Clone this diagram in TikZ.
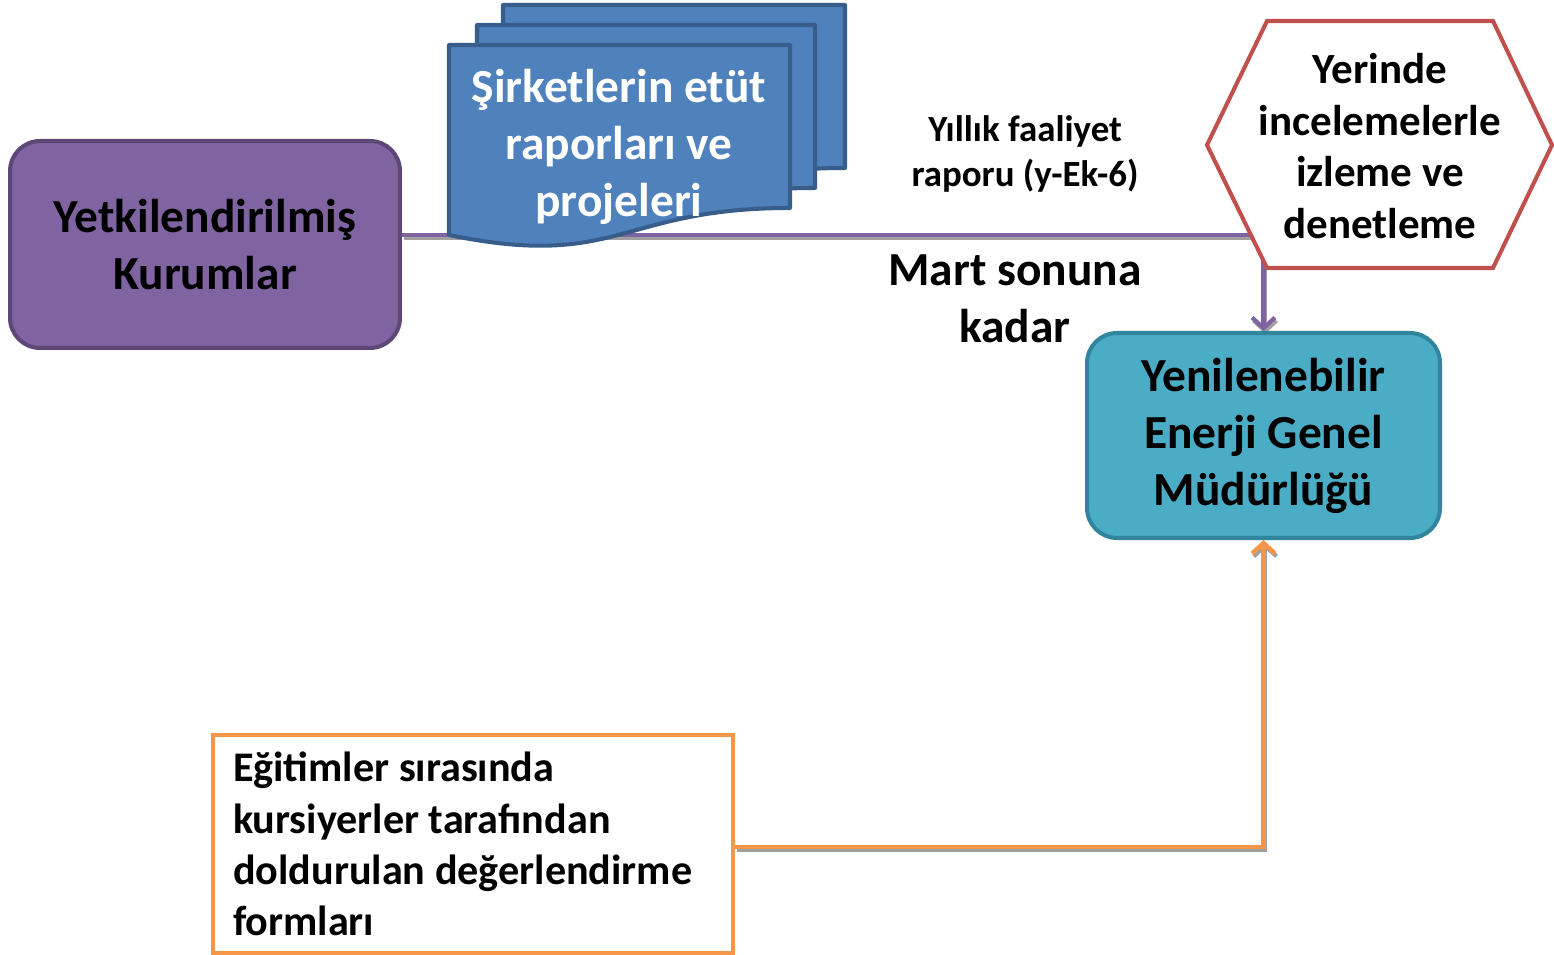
\documentclass[tikz,border=0pt]{standalone}
\usepackage{fontspec}
\setmainfont{Carlito}
\usetikzlibrary{arrows.meta}
\usetikzlibrary{backgrounds}

\definecolor{kurumfill}{HTML}{8064A2}
\definecolor{kurumdraw}{HTML}{5C4776}
\definecolor{raporfill}{HTML}{4F81BD}
\definecolor{rapordraw}{HTML}{385D8A}
\definecolor{yegmfill}{HTML}{4BACC6}
\definecolor{yegmdraw}{HTML}{31859C}
\definecolor{denetdraw}{HTML}{C0504D}
\definecolor{formdraw}{HTML}{F79646}
\definecolor{golge}{HTML}{A0A0A0}

\tikzset{
 buyuk/.style={font=\bfseries\fontsize{27}{32.5}\selectfont},
 kutu/.style={rectangle, rounded corners=0.6cm, line width=2.3pt, align=center, buyuk},
 ok/.style={line width=2.4pt, ->, >={Straight Barb[length=6pt,width=13pt]}},
 golgeli/.style={golge, line width=2.4pt, ->, >={Straight Barb[length=6pt,width=13pt]}, transform canvas={xshift=0.9pt,yshift=-1.7pt}}
}

\begin{document}
\begin{tikzpicture}[x=0.02cm, y=-0.02cm]
\useasboundingbox (0,0) rectangle (1554,955);

% kutular
\node[kutu, fill=kurumfill, draw=kurumdraw, minimum width=7.8cm, minimum height=4.14cm] (kurum) at (205,244.5) {Yetkilendirilmiş\\Kurumlar};
\node[kutu, fill=yegmfill, draw=yegmdraw, minimum width=7.06cm, minimum height=4.1cm] (yegm) at (1263.5,435.5) {Yenilenebilir\\Enerji Genel\\Müdürlüğü};
\node[rectangle, draw=formdraw, fill=white, line width=2.3pt, minimum width=10.4cm, minimum height=4.36cm, text width=9.6cm, align=flush left, font=\bfseries\fontsize{24}{29.2}\selectfont] (form) at (473,844) {Eğitimler sırasında\\kursiyerler tarafından\\doldurulan değerlendirme\\formları};

% rapor yigini
\foreach \x/\y/\w in {503/5/342, 477/25/338, 449/45/341} {
 \filldraw[fill=raporfill, draw=rapordraw, line width=2.3pt, line join=round]
  (\x,\y) -- ++(\w,0) -- ++(0,163)
  .. controls ({\x+\w/2},{\y+163}) and ({\x+\w/2},{\y+225}) .. (\x,{\y+190}) -- cycle;
}
\node[buyuk, text=white, align=center] (rapor) at (619,147) {Şirketlerin etüt\\raporları ve\\projeleri};

% denetleme
\filldraw[fill=white, draw=denetdraw, line width=2.3pt]
 (1207,145) -- (1267,21) -- (1493,21) -- (1552,145) -- (1493,268) -- (1267,268) -- cycle;
\node[align=center, font=\bfseries\fontsize{24.5}{29.5}\selectfont] (denet) at (1380,146) {Yerinde\\incelemelerle\\izleme ve\\denetleme};

% etiketler
\node[align=center, font=\bfseries\fontsize{21}{25.5}\selectfont] (yillik) at (1025,154) {Yıllık faaliyet\\raporu (y-Ek-6)};
\node[buyuk, align=center] (mart) at (1015,299) {Mart sonuna\\kadar};

% baglantilar
\begin{scope}[on background layer]
\draw[golgeli] ([yshift=0.19cm]kurum.east) -| (yegm.north);
\draw[ok, kurumfill] ([yshift=0.19cm]kurum.east) -| (yegm.north);
\draw[golgeli] ([yshift=-0.06cm]form.east) -| (yegm.south);
\draw[ok, formdraw] ([yshift=-0.06cm]form.east) -| (yegm.south);
\end{scope}
\end{tikzpicture}
\end{document}
